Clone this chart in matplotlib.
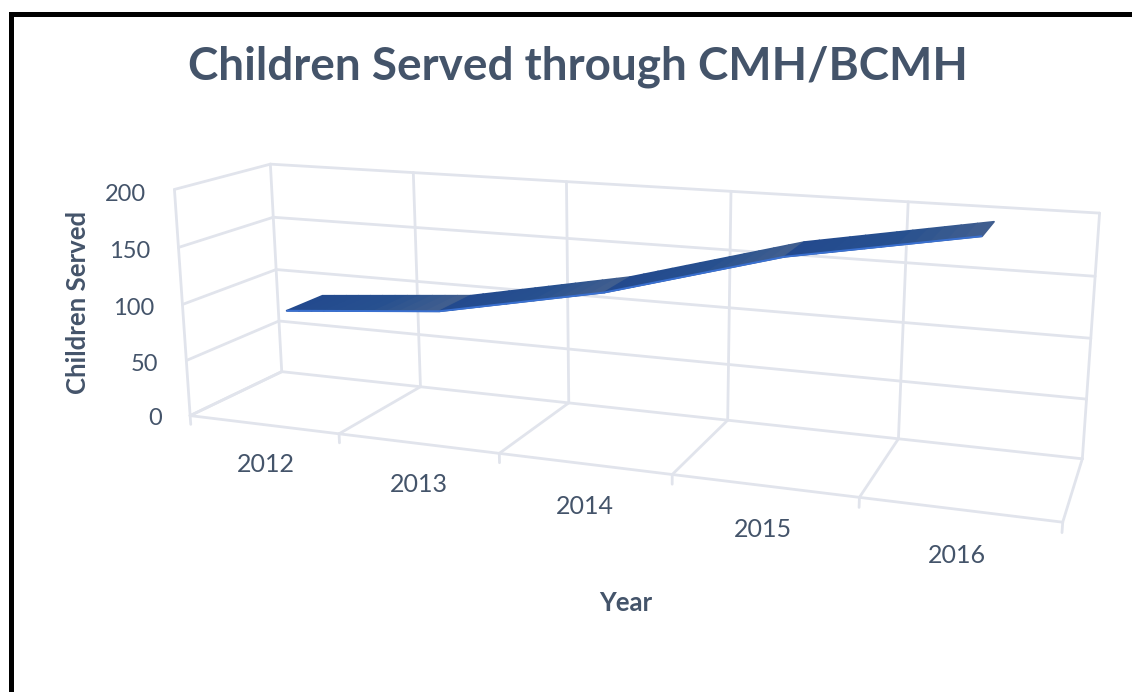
import numpy as np
import matplotlib
matplotlib.use("Agg")
import matplotlib.pyplot as plt
from matplotlib.colors import LinearSegmentedColormap
from mpl_toolkits.mplot3d import proj3d
from mpl_toolkits.mplot3d.art3d import Poly3DCollection

years = ["2012", "2013", "2014", "2015", "2016"]
children = [90, 102, 130, 170, 196]
z_ticks = [0, 50, 100, 150, 200]

W, H = 1132, 692
TEXT = "#44546A"
GRID = "#E1E4EC"
plt.rcParams["font.family"] = ["Lato", "DejaVu Sans"]

fig = plt.figure(figsize=(W / 100, H / 100), dpi=100)

# camera found by fitting the box corners of the reference
cx, cy, s = 604.2, 333.1, 922.4
ax = fig.add_axes([(cx - s / 2) / W, 1 - (cy + s / 2) / H, s / W, s / H], projection="3d")
ax.set_xlim(0, 5)
ax.set_ylim(0, 1)
ax.set_zlim(0, 200)
ax.view_init(elev=14.156, azim=-69.331, roll=0.165)
ax.set_proj_type("persp", focal_length=0.329)
ax.set_box_aspect((4.977, 1, 1.342))
ax.set_axis_off()


def grid_line(x, y, z):
    ax.plot(x, y, z, color=GRID, lw=2, clip_on=False, zorder=1, solid_capstyle="round")


def label(x, y, z, txt, **kw):
    # plain 2D text at the projected position of a 3D point
    x2, y2, _ = proj3d.proj_transform(x, y, z, ax.get_proj())
    ax.text2D(x2, y2, txt, transform=ax.transData, va="center", color=TEXT, clip_on=False, **kw)


# walls and floor
for z in z_ticks:
    grid_line([0, 0], [0, 1], [z, z])
    grid_line([0, 5], [1, 1], [z, z])
for i in range(len(years) + 1):
    grid_line([i, i], [1, 1], [0, 200])
    grid_line([i, i], [0, 1], [0, 0])
    grid_line([i, i], [0, 0], [-8, 0])
grid_line([0, 5], [0, 0], [0, 0])
grid_line([0, 0], [0, 0], [0, 200])

# ribbon, each segment shaded dark to light along its length
front, back = 0.31, 0.717
shade = LinearSegmentedColormap.from_list("ribbon", ["#234A8E", "#27508F", "#45618F"])
xs = np.arange(len(years)) + 0.5
ribbon = []
colors = []
for i in range(len(years) - 1):
    t = np.linspace(0, 1, 13)
    xt = xs[i] + t * (xs[i + 1] - xs[i])
    zt = children[i] + t * (children[i + 1] - children[i])
    for j in range(len(t) - 1):
        ribbon.append([(xt[j], front, zt[j]), (xt[j + 1], front, zt[j + 1]),
                       (xt[j + 1], back, zt[j + 1]), (xt[j], back, zt[j])])
        colors.append(shade(t[j]))
poly = Poly3DCollection(ribbon, facecolors=colors, edgecolors=colors, linewidths=1.2, zorder=3)
poly.set_clip_on(False)
ax.add_collection3d(poly)
ax.plot(xs, np.full(len(xs), front), children, color="#3A70D0", lw=1.4, clip_on=False, zorder=4,
        solid_capstyle="butt")

# tick labels
for i, y in enumerate(years):
    label(i + 0.5, 0, -36, y, ha="center", fontsize=18)
for z in z_ticks:
    label(-0.2, 0, z - 6, str(z), ha="right", fontsize=17)

fig.text(578 / W, 1 - 67 / H, "Children Served through CMH/BCMH", ha="center", va="center",
         fontsize=33, fontweight="bold", color=TEXT)
fig.text(78 / W, 1 - 302 / H, "Children Served", rotation=90, ha="center", va="center",
         fontsize=18.5, fontweight="bold", color=TEXT)
fig.text(626 / W, 1 - 603 / H, "Year", ha="center", va="center", fontsize=18.5, fontweight="bold", color=TEXT)

# black frame along the top and left only
fig.add_artist(plt.Line2D([10.5 / W, 10.5 / W, 1], [0, 1 - 13.5 / H, 1 - 13.5 / H], color="black", lw=3.6,
                          solid_joinstyle="miter"))

fig.savefig("out.png", dpi=100)
